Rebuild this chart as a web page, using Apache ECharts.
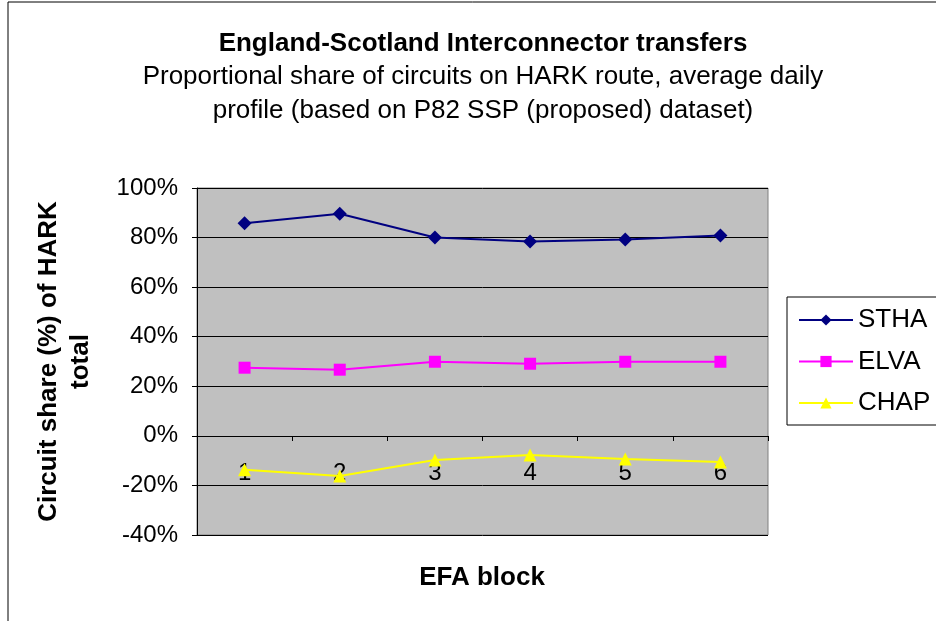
<!DOCTYPE html>
<html>
<head>
<meta charset="utf-8">
<script src="https://cdn.jsdelivr.net/npm/echarts@6/dist/echarts.min.js"></script>
<style>
html, body { margin: 0; padding: 0; background: #fff; }
#chart { width: 936px; height: 621px; }
</style>
</head>
<body>
<div id="chart"></div>
<script>
// EFA blocks and circuit shares (%) on HARK route
const blocks = ['1', '2', '3', '4', '5', '6']
const stha = [85.8, 89.6, 80.0, 78.4, 79.2, 80.8]
const elva = [27.5, 26.7, 29.9, 29.1, 29.9, 29.9]
const chap = [-13.7, -16.2, -9.7, -7.7, -9.3, -10.5]

const font = 'Liberation Sans, Arial, sans-serif'

const chart = echarts.init(document.getElementById('chart'))
const option = {
    animation: false,
    textStyle: { fontFamily: font },
    title: {
        left: 478,
        top: 26,
        textAlign: 'center',
        text: 'England-Scotland Interconnector transfers',
        textStyle: { fontSize: 26, fontWeight: 'bold', color: '#000', fontFamily: font },
        subtext: 'Proportional share of circuits on HARK route, average daily\nprofile (based on P82 SSP (proposed) dataset)',
        subtextStyle: { fontSize: 26, color: '#000', lineHeight: 34, fontFamily: font },
        itemGap: 3
    },
    graphic: [
        {
            type: 'rect',
            shape: { x: 8, y: 2, width: 940, height: 640 },
            style: { fill: 'none', stroke: '#000', lineWidth: 1 },
            silent: true
        },
        {
            type: 'text',
            x: 482,
            y: 578,
            style: { text: 'EFA block', fontSize: 26, fontWeight: 'bold', fill: '#000', fontFamily: font, align: 'center', verticalAlign: 'middle' }
        }
    ],
    legend: {
        orient: 'vertical',
        left: 787,
        top: 297,
        padding: [10, 30, 9, 11],
        itemWidth: 54,
        itemHeight: 14,
        itemGap: 15.5,
        borderColor: '#000',
        borderWidth: 1,
        textStyle: { fontSize: 26, color: '#000', fontFamily: font },
        data: ['STHA', 'ELVA', 'CHAP']
    },
    grid: {
        left: 197, right: 168, top: 188, bottom: 86,
        outerBoundsMode: 'none', containLabel: false,
        show: true, backgroundColor: '#C0C0C0', borderColor: '#808080', borderWidth: 1
    },
    xAxis: {
        type: 'category',
        data: blocks,
        position: 'bottom',
        offset: -99,
        z: 3,
        axisLine: { onZero: false, lineStyle: { color: '#000', width: 1 } },
        axisTick: { show: true, length: 5, lineStyle: { color: '#000' } },
        axisLabel: { fontSize: 24, color: '#000', margin: 25, fontFamily: font },
        splitLine: { show: false }
    },
    yAxis: {
        type: 'value',
        min: -40,
        max: 100,
        interval: 20,
        name: 'Circuit share (%) of HARK\ntotal',
        nameLocation: 'middle',
        nameRotate: 90,
        nameGap: 100,
        nameTextStyle: { fontSize: 26, fontWeight: 'bold', color: '#000', lineHeight: 32, fontFamily: font },
        axisLine: { show: true, lineStyle: { color: '#000', width: 1 } },
        axisTick: { show: true, length: 5, lineStyle: { color: '#000' } },
        axisLabel: { fontSize: 24, color: '#000', margin: 19, formatter: '{value}%', fontFamily: font },
        splitLine: { show: true, lineStyle: { color: '#000', width: 1 } }
    },
    series: [
        {
            name: 'STHA', type: 'line', data: stha,
            symbol: 'diamond', symbolSize: 14,
            itemStyle: { color: '#000080' },
            lineStyle: { color: '#000080', width: 2 }
        },
        {
            name: 'ELVA', type: 'line', data: elva,
            symbol: 'rect', symbolSize: 12,
            itemStyle: { color: '#FF00FF' },
            lineStyle: { color: '#FF00FF', width: 2 }
        },
        {
            name: 'CHAP', type: 'line', data: chap,
            symbol: 'triangle', symbolSize: 13,
            itemStyle: { color: '#FFFF00' },
            lineStyle: { color: '#FFFF00', width: 2 }
        }
    ]
}
chart.setOption(option)
</script>
</body>
</html>
